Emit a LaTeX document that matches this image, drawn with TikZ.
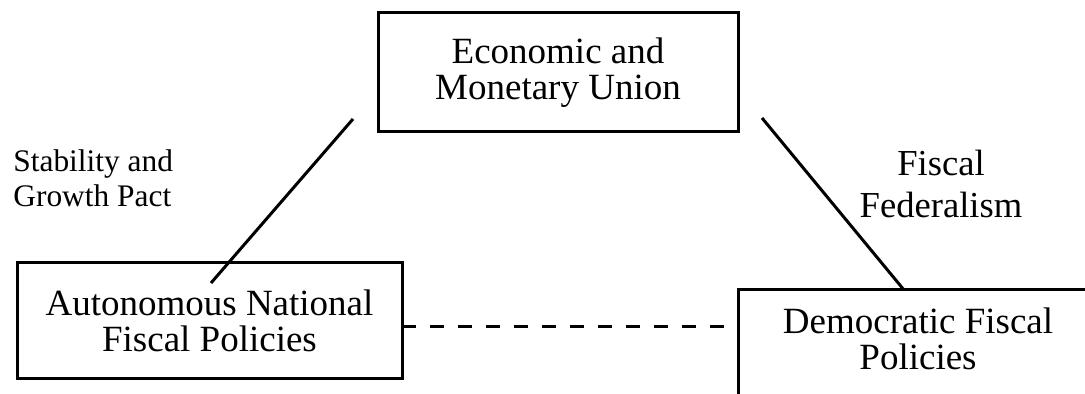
\documentclass[tikz,border=0pt]{standalone}
\usepackage{fontspec}
\setmainfont{Liberation Serif}

\begin{document}
\begin{tikzpicture}[x=0.5pt, y=-0.5pt,
  block/.style={draw, line width=1.5pt, outer sep=0pt, align=center,
    font=\fontsize{18.5}{18}\selectfont},
  note/.style={inner sep=0pt},
  link/.style={line width=1.5pt}]
\clip (0,0) rectangle (1085,394);
\node[block, minimum width=180pt, minimum height=59.5pt] (emu) at (558,72.5) {Economic and\\Monetary Union};
\node[block, minimum width=192.5pt, minimum height=58pt] (anp) at (209.5,321) {Autonomous National\\Fiscal Policies};
\node[block, anchor=north west, minimum width=180pt, inner ysep=9pt, text depth=30pt] (dfp) at (738,290) {Democratic Fiscal\\Policies};
\node[note, anchor=west, align=left, font=\fontsize{15.7}{17.5}\selectfont] (sgp) at (13,178.7) {Stability and\\Growth Pact};
\node[note, align=center, font=\fontsize{18.3}{21}\selectfont] (ff) at (941,183.5) {Fiscal\\Federalism};
% free ends of the two diagonals
\coordinate (emuL) at ([shift={(-25,-13)}]emu.south west);
\coordinate (emuR) at ([shift={(24,-14)}]emu.south east);
\draw[link] (emuL) -- ([shift={(1.5,20)}]anp.north);
\draw[link] (emuR) -- ([shift={(166,0)}]dfp.north west);
\draw[link, dash pattern=on 7pt off 7pt] ([yshift=-3pt]anp.east) -- ([yshift=-3pt]anp.east -| dfp.west);
\end{tikzpicture}
\end{document}
